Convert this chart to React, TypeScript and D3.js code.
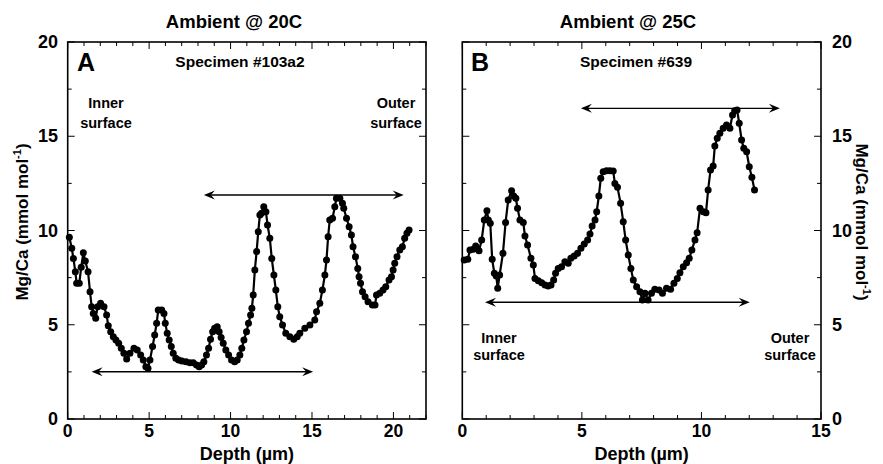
import React from "react";
import * as d3 from "d3";

// ---------- data ----------
const depthA = [0.1,0.25,0.35,0.47,0.55,0.71,0.83,0.96,1.08,1.25,
1.37,1.47,1.57,1.72,1.84,2.02,2.23,2.39,2.49,2.64,
2.8,2.96,3.13,3.29,3.45,3.62,3.82,4.07,4.27,4.48,
4.64,4.8,4.93,5.05,5.21,5.34,5.46,5.56,5.77,5.91,
5.99,6.11,6.23,6.36,6.48,6.64,6.81,7.01,7.26,7.5,
7.71,7.91,8.07,8.22,8.36,8.52,8.65,8.77,8.9,9.02,
9.18,9.3,9.42,9.55,9.71,9.88,10.06,10.25,10.41,10.57,
10.69,10.82,10.98,11.1,11.23,11.31,11.39,11.49,11.6,11.7,
11.8,11.9,12.04,12.17,12.27,12.41,12.53,12.66,12.78,12.9,
13.02,13.19,13.39,13.64,13.88,14.09,14.25,14.56,14.87,15.17,
15.28,15.48,15.64,15.79,15.89,15.99,16.09,16.26,16.4,16.5,
16.71,16.87,16.95,17.12,17.28,17.42,17.52,17.67,17.81,17.89,
17.98,18.1,18.26,18.44,18.71,18.87,18.96,19.16,19.36,19.53,
19.73,19.88,19.98,20.08,20.22,20.39,20.55,20.69,20.83,20.96];
const mgcaA = [9.64,9.06,8.52,7.81,7.2,7.2,8.05,8.82,8.38,7.81,
6.75,5.96,5.6,5.34,5.96,6.14,5.96,5.52,4.95,4.63,
4.37,4.19,4.02,3.75,3.49,3.18,3.49,3.75,3.66,3.4,
3.13,2.77,2.69,3.13,3.84,4.46,5.08,5.78,5.78,5.6,
5.08,4.55,4.19,3.84,3.49,3.22,3.13,3.08,3.04,2.99,
2.99,2.86,2.77,2.86,3.04,3.4,3.75,4.23,4.63,4.81,
4.9,4.63,4.33,4.02,3.66,3.4,3.13,3.04,3.13,3.4,
3.75,4.19,4.63,5.08,5.52,5.87,6.58,7.9,8.88,9.94,
10.82,10.91,11.26,11.0,10.29,9.59,8.52,7.64,6.84,5.96,
5.43,4.99,4.55,4.37,4.23,4.37,4.55,4.81,4.99,5.25,
5.69,6.14,6.84,7.64,8.43,9.67,10.56,10.65,11.26,11.71,
11.71,11.44,11.18,10.65,10.2,9.76,9.14,8.61,7.99,7.55,
7.2,6.75,6.49,6.22,6.05,6.05,6.58,6.67,6.84,7.02,
7.37,7.55,7.9,8.26,8.61,8.97,9.14,9.59,9.85,10.03];

const depthB = [0.08,0.23,0.32,0.46,0.56,0.7,0.81,0.92,1.03,1.09,
1.17,1.25,1.34,1.42,1.48,1.56,1.7,1.81,1.92,2.06,
2.15,2.24,2.31,2.41,2.55,2.62,2.73,2.87,2.97,3.04,
3.18,3.32,3.46,3.59,3.71,3.82,3.9,4.01,4.15,4.29,
4.43,4.54,4.68,4.82,4.96,5.1,5.24,5.34,5.43,5.55,
5.62,5.71,5.79,5.89,6.03,6.17,6.31,6.38,6.49,6.62,
6.73,6.83,6.94,7.05,7.15,7.29,7.43,7.53,7.64,7.77,
7.91,8.05,8.23,8.37,8.54,8.71,8.85,8.99,9.1,9.24,
9.38,9.49,9.6,9.73,9.82,9.94,10.08,10.19,10.28,10.38,
10.49,10.56,10.66,10.77,10.91,11.05,11.19,11.3,11.39,11.49,
11.58,11.68,11.77,11.89,12.0,12.11,12.22];
const mgcaB = [8.43,8.47,8.97,9.0,9.18,8.93,9.5,10.56,11.05,10.56,
10.38,8.47,7.73,7.59,6.93,7.64,8.79,10.43,11.62,12.11,
11.83,11.71,11.18,10.56,10.43,9.71,9.23,8.53,8.17,7.46,
7.34,7.23,7.11,7.06,7.11,7.37,7.73,7.99,8.08,8.34,
8.26,8.53,8.65,8.79,9.06,9.28,9.5,9.81,10.24,10.56,
11.0,11.83,12.77,13.12,13.17,13.17,13.16,12.5,12.29,11.44,
10.47,9.5,8.7,7.99,7.37,7.02,6.75,6.31,6.67,6.31,
6.67,6.88,6.84,6.67,6.93,6.88,7.2,7.46,7.76,8.08,
8.29,8.53,8.97,9.5,9.88,11.18,11.0,10.94,12.15,13.21,
13.42,14.48,14.89,15.16,15.42,15.6,15.42,16.13,16.35,16.39,
15.69,14.8,14.36,14.18,13.38,12.82,12.15];

const xTicksA = [0, 5, 10, 15, 20];
const xTicksB = [0, 5, 10, 15];
const yTicks = [0, 5, 10, 15, 20];

// arrows: [x1, x2, y]
const arrowsA = [[8.36, 20.63, 11.88], [1.47, 15.07, 2.51]];
const arrowsB = [[4.96, 13.28, 16.48], [0.95, 12.02, 6.19]];

const FONT = "'Liberation Sans Narrow', 'Arial Narrow', 'Liberation Sans', Arial, sans-serif";
const FONT2 = "'Liberation Sans', Arial, Helvetica, sans-serif";

const yScale = d3.scaleLinear().domain([0, 20]).range([419, 42]);

function Arrow({ x1, x2, y }: { x1: number; x2: number; y: number }) {
  const L = 11, H = 4.5, N = 7;
  const left = `M${x1},${y} L${x1 + L},${y - H} L${x1 + N},${y} L${x1 + L},${y + H} Z`;
  const right = `M${x2},${y} L${x2 - L},${y - H} L${x2 - N},${y} L${x2 - L},${y + H} Z`;
  return (
    <g>
      <line x1={x1 + 4} x2={x2 - 4} y1={y} y2={y} stroke="#000" strokeWidth={1.4} />
      <path d={left} fill="#000" />
      <path d={right} fill="#000" />
    </g>
  );
}

function Panel({ xs, ys, xMax, range, xTicks, arrows }: any) {
  const x = d3.scaleLinear().domain([0, xMax]).range(range);
  const [x0, x1] = range;
  const [yb, yt] = [yScale(0), yScale(20)];
  const line = d3.line<number>().x((_, i) => x(xs[i])).y((d) => yScale(d));
  const minorX = d3.range(0, xMax + 0.001, 1);
  const minorY = d3.range(0, 20.001, 2.5);
  return (
    <g>
      {minorX.map((v) => {
        const major = Math.abs(v % 5) < 1e-6;
        const len = major ? 7 : 4;
        return (
          <g key={"x" + v}>
            <line x1={x(v)} x2={x(v)} y1={yb} y2={yb - len} stroke="#000" strokeWidth={1} />
            <line x1={x(v)} x2={x(v)} y1={yt} y2={yt + len} stroke="#000" strokeWidth={1} />
          </g>
        );
      })}
      {minorY.map((v) => {
        const major = Math.abs(v % 5) < 1e-6;
        const len = major ? 7 : 4;
        return (
          <g key={"y" + v}>
            <line x1={x0} x2={x0 + len} y1={yScale(v)} y2={yScale(v)} stroke="#000" strokeWidth={1} />
            <line x1={x1} x2={x1 - len} y1={yScale(v)} y2={yScale(v)} stroke="#000" strokeWidth={1} />
          </g>
        );
      })}
      <rect x={x0} y={yt} width={x1 - x0} height={yb - yt} fill="none" stroke="#000" strokeWidth={1.6} />
      {xTicks.map((v: number) => (
        <text key={"xl" + v} x={x(v)} y={437} textAnchor="middle" fontFamily={FONT} fontWeight="bold" fontSize={17.5}>
          {v}
        </text>
      ))}
      <path d={line(ys) || ""} fill="none" stroke="#000" strokeWidth={2.2} />
      {ys.map((d: number, i: number) => (
        <circle key={i} cx={x(xs[i])} cy={yScale(d)} r={3.5} fill="#000" />
      ))}
      {arrows.map((a: number[], i: number) => (
        <Arrow key={"a" + i} x1={x(a[0])} x2={x(a[1])} y={yScale(a[2])} />
      ))}
      <text x={(x0 + x1) / 2} y={460} textAnchor="middle" fontFamily={FONT} fontWeight="bold" fontSize={18}>
        Depth (µm)
      </text>
    </g>
  );
}

const yLabel = (
  <>
    Mg/Ca (mmol mol<tspan dy={-7} fontSize={11}>-1</tspan>
    <tspan dy={7}>)</tspan>
  </>
);

export default function App() {
  return (
    <svg width={883} height={464} style={{ position: "absolute", left: 0, top: 0, background: "#fff" }}>
      <rect width={883} height={464} fill="#fff" />
      <Panel xs={depthA} ys={mgcaA} xMax={22} range={[67.7, 426]} xTicks={xTicksA} arrows={arrowsA} />
      <Panel xs={depthB} ys={mgcaB} xMax={15} range={[462.3, 821]} xTicks={xTicksB} arrows={arrowsB} />
      {yTicks.map((v) => (
        <text key={"yl" + v} x={58} y={yScale(v) + 6} textAnchor="end" fontFamily={FONT} fontWeight="bold" fontSize={18}>
          {v}
        </text>
      ))}
      {yTicks.map((v) => (
        <text key={"yr" + v} x={832} y={yScale(v) + 6} textAnchor="start" fontFamily={FONT} fontWeight="bold" fontSize={18}>
          {v}
        </text>
      ))}
      <text transform="translate(28,222) rotate(-90)" textAnchor="middle" fontFamily={FONT2} fontWeight="bold" fontSize={17}>
        {yLabel}
      </text>
      <text transform="translate(856,222) rotate(90)" textAnchor="middle" fontFamily={FONT2} fontWeight="bold" fontSize={17}>
        {yLabel}
      </text>
      <g fontFamily={FONT2} fontWeight="bold" fill="#000">
        <text x={234} y={28} textAnchor="middle" fontSize={18.5}>Ambient @ 20C</text>
        <text x={628} y={28} textAnchor="middle" fontSize={18.5}>Ambient @ 25C</text>
        <text x={77} y={71} fontSize={25}>A</text>
        <text x={471} y={71} fontSize={25}>B</text>
        <text x={240} y={67} textAnchor="middle" fontSize={15.5}>Specimen #103a2</text>
        <text x={636} y={67} textAnchor="middle" fontSize={15.5}>Specimen #639</text>
        <text x={106} y={108} textAnchor="middle" fontSize={14.5}>Inner</text>
        <text x={106} y={128} textAnchor="middle" fontSize={14.5}>surface</text>
        <text x={396} y={108} textAnchor="middle" fontSize={14.5}>Outer</text>
        <text x={396} y={128} textAnchor="middle" fontSize={14.5}>surface</text>
        <text x={499} y={343} textAnchor="middle" fontSize={14.5}>Inner</text>
        <text x={499} y={360} textAnchor="middle" fontSize={14.5}>surface</text>
        <text x={790} y={343} textAnchor="middle" fontSize={14.5}>Outer</text>
        <text x={790} y={360} textAnchor="middle" fontSize={14.5}>surface</text>
      </g>
    </svg>
  );
}
